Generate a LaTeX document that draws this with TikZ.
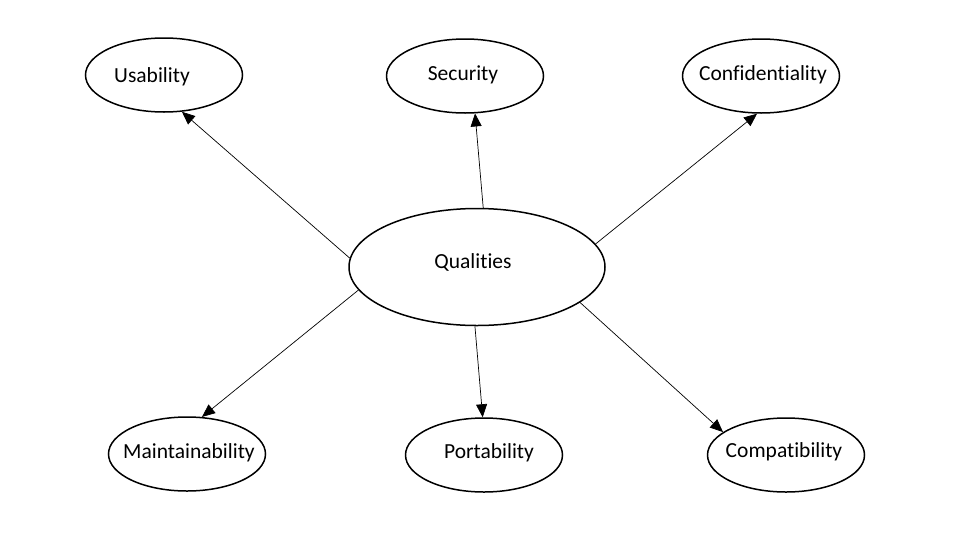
\documentclass[tikz,border=0pt]{standalone}
\usepackage{fontspec}
\setmainfont{Carlito}[Ligatures=NoCommon]
\usetikzlibrary{shapes.geometric,arrows.meta}
\begin{document}
\begin{tikzpicture}[x=1pt,y=-1pt,
  oval/.style={draw=black,line width=1.5pt,ellipse,inner sep=0pt,minimum width=157pt,minimum height=74pt},
  bigoval/.style={draw=black,line width=1.5pt,ellipse,inner sep=0pt,minimum width=256pt,minimum height=117pt},
  lbl/.style={font=\fontsize{21.5}{24}\selectfont,inner sep=0pt},
  conn/.style={line width=0.7pt,-{Triangle[length=13pt,width=11pt]}}]
\useasboundingbox (0,0) rectangle (957,557);
\fill[white] (0,0) rectangle (957,557);
\node[bigoval] (Q) at (477,267) {};
\node[oval] (U) at (164,75) {};
\node[oval] (S) at (465,76) {};
\node[oval] (C) at (761,76) {};
\node[oval] (M) at (187,454) {};
\node[oval] (P) at (484,455) {};
\node[oval] (K) at (786,455) {};
\node[lbl] (tQ) at (473,262) {Qualities};
\node[lbl] (tU) at (152,77) {Usability};
\node[lbl] (tS) at (463,75) {Security};
\node[lbl] (tC) at (763,75) {Confidentiality};
\node[lbl] (tM) at (189,453) {Maintainability};
\node[lbl] (tP) at (489,453) {Portability};
\node[lbl] (tK) at (784,452) {Compatibility};
\draw[conn] (Q.176) -- (U.-64);
\draw[conn] (Q.84) -- (S.-75);
\draw[conn] (Q.11) -- (C.-96);
\draw[conn] (Q.191) -- (M.68);
\draw[conn] (Q.268) -- (P.92);
\draw[conn] (Q.-19) -- (K.160);
\end{tikzpicture}
\end{document}
